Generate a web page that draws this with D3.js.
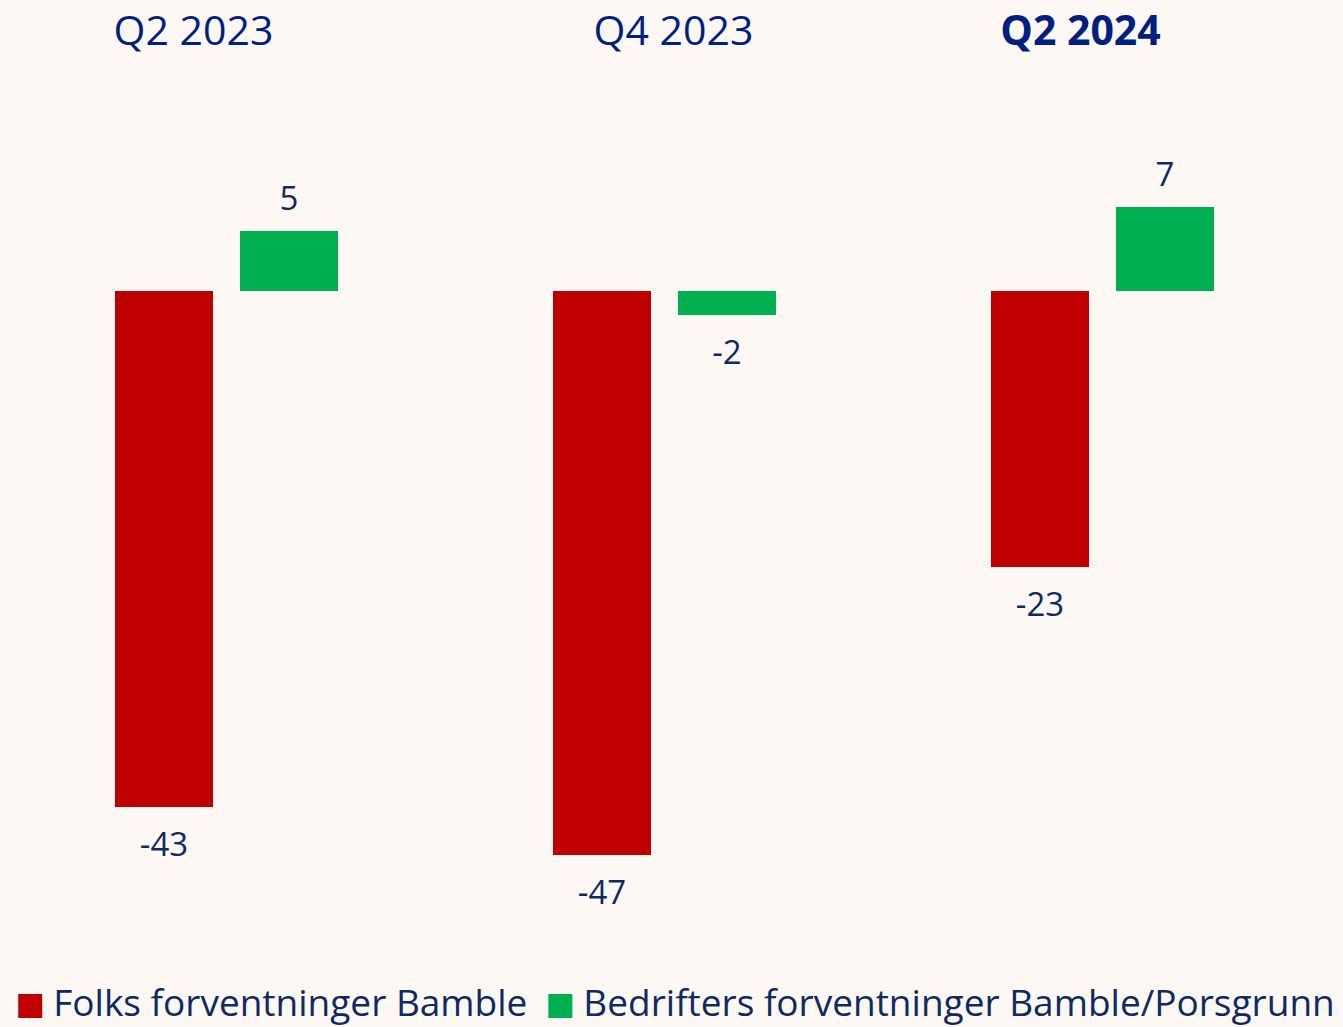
<!DOCTYPE html>
<html>
<head>
<meta charset="utf-8">
<script src="https://cdn.jsdelivr.net/npm/d3@7"></script>
<style>
  html, body { margin: 0; padding: 0; background: #FEF8F4; }
  svg { display: block; }
  text { font-family: "Open Sans", "Noto Sans", sans-serif; }
</style>
</head>
<body>
<svg id="chart" width="1343" height="1027"></svg>
<script>
// ---- data ----
const quarters = ["Q2 2023", "Q4 2023", "Q2 2024"];
const seriesNames = ["Folks forventninger Bamble", "Bedrifters forventninger Bamble/Porsgrunn"];
const folksValues = [-43, -47, -23];
const bedrifterValues = [5, -2, 7];
const boldQuarter = "Q2 2024";

// ---- layout / style ----
const W = 1343, H = 1027;
const colors = ["#C00000", "#00B050"];
const titleColor = "#002080";
const textColor = "#0F2A62";
const titleShift = [-33, 9, -22];

const svg = d3.select("#chart");
svg.append("rect").attr("width", W).attr("height", H).attr("fill", "#FEF8F4");

const x0 = d3.scaleBand().domain(quarters).range([7.5, 1321.5]).padding(0);
const x1 = d3.scaleBand().domain(seriesNames).range([0, x0.bandwidth()])
  .paddingInner(0.216).paddingOuter(0.86);
const y = d3.scaleLinear().domain([-50, 20]).range([891, 51]);

const rows = quarters.map((q, i) => ({
  q, i,
  vals: [
    { s: seriesNames[0], v: folksValues[i], c: colors[0] },
    { s: seriesNames[1], v: bedrifterValues[i], c: colors[1] }
  ]
}));

// titles
svg.selectAll("text.title").data(rows).join("text")
  .attr("class", "title")
  .attr("x", d => x0(d.q) + x0.bandwidth() / 2 + titleShift[d.i])
  .attr("y", 45)
  .attr("text-anchor", "middle")
  .attr("fill", titleColor)
  .attr("font-size", 41)
  .attr("font-weight", d => d.q === boldQuarter ? 700 : 400)
  .text(d => d.q);

const g = svg.selectAll("g.grp").data(rows).join("g")
  .attr("class", "grp")
  .attr("transform", d => `translate(${x0(d.q)},0)`);

g.selectAll("rect").data(d => d.vals).join("rect")
  .attr("x", d => x1(d.s))
  .attr("width", x1.bandwidth())
  .attr("y", d => y(Math.max(0, d.v)))
  .attr("height", d => Math.abs(y(d.v) - y(0)))
  .attr("fill", d => d.c);

g.selectAll("text.lbl").data(d => d.vals).join("text")
  .attr("class", "lbl")
  .attr("x", d => x1(d.s) + x1.bandwidth() / 2)
  .attr("y", d => d.v >= 0 ? y(d.v) - 21 : y(d.v) + 49)
  .attr("text-anchor", "middle")
  .attr("fill", textColor)
  .attr("font-size", 33)
  .text(d => d.v);

// legend
const leg = svg.append("g");
let cx = 0;
seriesNames.forEach((s, i) => {
  const item = leg.append("g").attr("transform", `translate(${cx},0)`);
  item.append("rect").attr("x", 0).attr("y", 994).attr("width", 24).attr("height", 24).attr("fill", colors[i]);
  const t = item.append("text").attr("x", 35).attr("y", 1016)
    .attr("fill", textColor).attr("font-size", 37).text(s);
  cx += 35 + t.node().getComputedTextLength() + 21;
});
const totalW = cx - 21;
leg.attr("transform", `translate(${(18 + 1335) / 2 - totalW / 2},0)`);
</script>
</body>
</html>
